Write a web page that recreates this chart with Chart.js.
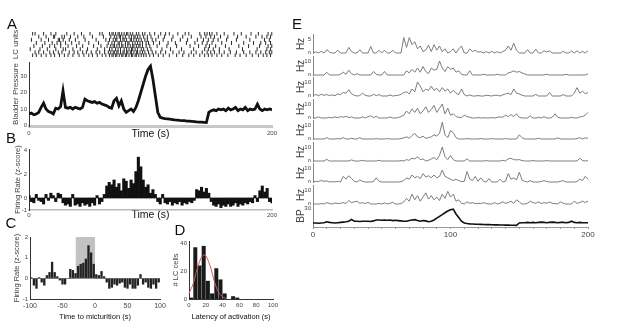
<!DOCTYPE html>
<html>
<head>
<meta charset="utf-8">
<script src="https://cdn.jsdelivr.net/npm/chart.js@4.4.1/dist/chart.umd.min.js"></script>
<style>
  body { margin: 0; background: #fff; }
  #fig { position: relative; width: 617px; height: 330px; overflow: hidden; background: #fff;
         font-family: "Liberation Sans", Arial, sans-serif; }
  #fig canvas { position: absolute; }
  .lbl { position: absolute; color: #111; white-space: nowrap; line-height: 1; transform: translate(-50%, -50%); }
</style>
</head>
<body>
<div id="fig"></div>
<script>
// ---- data ----

// time grid of the traces, 2 s steps, 0..200 s
const t2 = Array.from({ length: 101 }, (_, i) => i * 2);

// A: spike times (s) of 8 LC units
const rasterSpikes = [
  [3,5,12,18,22,31,37,43,50,58,60,66,68,69,71,73,74,76,78,80,81,83,85,88,90,93,95,99,103,108,112,115,122,128,131,140,144,146,148,150,154,160,168,174,182,188,196,199],
  [8,14,20,21,27,29,34,40,45,52,61,67,70,72,74,75,77,79,82,84,86,87,89,91,94,97,100,106,111,118,126,133,141,145,149,152,157,163,171,178,186,191,195,198],
  [2,10,16,24,25,28,33,38,46,55,63,66,69,71,72,75,77,78,80,83,84,86,88,90,92,95,97,101,104,110,117,124,130,138,143,147,151,155,162,170,181,193,197],
  [6,13,19,23,26,30,35,41,49,57,65,68,70,73,74,76,79,81,82,85,87,89,91,93,96,98,102,107,114,120,129,136,142,146,150,158,166,176,184,190,194,198],
  [4,11,17,21,26,32,39,44,53,59,64,67,69,70,72,74,76,77,79,81,83,85,86,88,90,91,93,96,99,105,113,121,132,139,145,148,153,161,172,180,189,196,199],
  [1,9,15,22,28,30,36,42,48,56,62,66,68,71,73,75,78,80,82,84,85,87,89,92,94,97,100,109,116,125,135,144,147,151,156,164,175,187,195,198],
  [5,8,12,17,20,24,27,33,37,40,44,47,51,55,58,62,65,67,69,70,72,73,75,77,78,80,81,83,84,86,88,89,91,93,95,98,101,104,108,112,118,123,127,133,137,142,146,149,152,156,160,165,170,176,181,186,190,194,197,199],
  [3,6,10,14,18,21,25,29,32,36,41,45,49,52,56,60,63,66,68,69,71,72,74,76,77,79,80,82,84,85,87,88,90,92,94,96,99,102,106,110,115,121,126,131,135,140,144,147,150,154,158,163,169,173,178,183,188,192,195,198]
];

// A: bladder pressure
const bladderPressure = [
  7,7.5,6.5,7,8,11,13.5,10,8.5,8,
  7,10.5,10,11.5,21,11,10.5,11,10,11,
  10.5,10,11,16,15,14.5,14,14.5,13.5,14,
  13,12.5,12,11,10.5,15,16.5,12,15,10,
  8,9,10,8.5,11,15,20,25,30,34,
  36,28,18,8,5,4.5,4.2,4,3.8,3.6,
  3.4,3.3,3.1,3,2.9,2.7,2.6,2.5,2.4,2.2,
  2.1,2,1.9,1.8,8,9,9.5,9,10,9.5,
  10,9,10.5,9.5,10,11,9,10,9.5,11,
  9,10,9.5,10,13,10,9,10,9.5,10,
  9.5
];
const bpTicks = [0, 10, 20, 30];
const timeTicks = [0, 200];

// B: population firing rate (z-score)
const zScore = [
  0.2,-0.3,-0.4,0.3,-0.2,-0.3,-0.5,0.3,-0.2,0.4,
  0.2,-0.3,0.4,0.3,-0.4,-0.6,-0.5,-0.7,0.3,-0.6,
  -0.5,-0.7,-0.4,-0.6,-0.5,-0.7,-0.4,-0.6,0.2,-0.5,
  -0.3,0.3,1.0,1.3,1.1,1.5,0.9,1.2,0.6,1.6,
  1.4,0.8,1.5,1.2,2.2,3.4,2.6,1.5,0.9,1.1,
  0.4,0.7,0.3,-0.3,-0.5,0.3,-0.4,-0.5,-0.3,-0.6,
  -0.4,-0.5,-0.3,-0.6,-0.4,-0.5,-0.3,-0.4,-0.2,0.7,
  0.6,0.9,0.5,0.8,0.4,-0.3,-0.6,-0.7,-0.5,-0.8,
  -0.6,-0.7,-0.5,-0.7,-0.6,-0.4,-0.7,-0.5,-0.6,-0.4,
  -0.5,-0.3,-0.4,0.2,-0.3,0.6,1.0,0.5,0.8,-0.3,
  -0.4
];
const zTicks = [-1, 0, 2, 4];

// C: firing rate around micturition
const cBins = [-98,-94,-90,-86,-82,-78,-74,-70,-66,-62,-58,-54,-50,-46,-42,-38,-34,-30,-26,-22,-18,-14,-10,-6,-2,
               2,6,10,14,18,22,26,30,34,38,42,46,50,54,58,62,66,70,74,78,82,86,90,94,98];
const cRate = [0.05,-0.35,-0.5,0.05,-0.2,-0.35,0.15,0.3,0.8,0.3,0.1,-0.1,-0.3,-0.3,0.02,0.45,0.4,0.25,0.6,0.7,0.75,0.95,1.6,1.25,0.7,
               0.2,0.15,0.35,0.1,-0.2,-0.5,-0.45,-0.3,-0.35,-0.25,-0.2,-0.45,-0.5,-0.3,-0.5,-0.5,-0.35,0.2,-0.3,-0.2,-0.45,-0.5,-0.3,-0.5,-0.2];
const cShade = [-30, 0];
const cShadeTop = 2;
const cXTicks = [-100, -50, 0, 50, 100];
const cYTicks = [-1, 0, 1, 2];

// D: latency histogram + gaussian fit
const dBins = [2.5,7.5,12.5,17.5,22.5,27.5,32.5,37.5,42.5,47.5,52.5,57.5,62.5,67.5,72.5,77.5,82.5,87.5,92.5,97.5];
const dCounts = [1,37,24,38,13,4,22,14,4,0,2,1,0,0,0,0,0,0,0,0];
const dFitX = [0,5,10,15,18,20,25,30,35,40,45];
const dFitY = [4,11,22,30,31.5,31,24,13,5,1.5,0.3];
const dXTicks = [0, 20, 40, 60, 80, 100];
const dYTicks = [0, 20, 40];

// E: single unit rates (Hz) and bladder pressure
const eUnit1 = [0,0.4,0,0.6,0,1.2,0.3,0,0,1, 0,0,0,2,0.5,0,0,1.2,0,0, 0,2.3,0,0,1,0,1,0,0,1,
  0,0,0,5.5,2,5.5,3,4,1.5,2.5, 0.5,1,2.8,0.5,3,1,2.5,0.5,1.5,0, 0.5,1.5,0,1.5,2.5,0,0,1.5,0.5,1,
  0.3,0.5,0,0.5,0,0.6,0,0.5,0,0.5, 1,2.5,1,3.5,1,0,0,0,1.2,0, 0,1.4,0,0,0.8,0.4,0.8,0,0,0,
  0,0.6,0,0,0.7,0,0.8,0,0.6,0, 0.8];
const eUnit2 = [0,0,0,0,0,2,0,0,0,0, 0.5,2,0.5,3.5,1,0,1,0,0,0, 0,0,2.5,0.5,0,0,2.5,0,0,0,
  0,0,0,0,3,1.5,4,2,5,2, 6,2.5,1,5,3.5,4,10,5,2.5,6, 4,5,2,3,0.5,0,0,3,0,0,
  0,0,0.5,0,0,0,0,0.6,0,0, 0,1.5,2,3,2,2.5,1.5,0.8,0,0, 0,0,0,0,0,0.5,0,0,0,0,
  0,0,0.5,0,0,0,0,0,0,0, 1];
const eUnit3 = [0.5,1,0.3,1.2,0.5,1,0.3,0.8,0.2,1.5, 1,2.5,2,4.5,1.5,0.5,0,0.3,2,0.5, 0,0,1.2,0.3,1,0,0,0,0.8,0,
  0.3,0.5,1.2,2.5,3,1.5,5,3,10,7, 3,5,4,7,4,5.5,3,6,3.5,5, 2,4,2,1,5,1,0,0.8,0,0,
  0.3,0,0,0.5,0.3,0,0.5,0.5,0,0.8, 1.5,2,1,5,2,1.5,0.5,0,0,0, 0,1.2,0,0,0,0,2.5,0,0,0,
  0,1,0,0,0,2,6,2,3.5,1.5, 2.5];
const eUnit4 = [0,0,0.8,0,0,0,0.5,0,0.8,0.3, 1,0.5,1.2,0.3,0.8,0,0,0,0.8,0, 1,1.5,0.3,1.2,0,0,0,0,0.8,0,
  0,0.3,1,2,5,3,6.5,4,7,3, 5,8,4,6,9,4,7,10,3,7, 2,3,1,0.5,0.3,2,1,0.5,0,0,
  0.3,0,0.2,0,0,0.3,0,0.5,0.8,0.5, 2,1,2.5,1,3,0.5,0,0,0,1.5, 0,0,0.5,0,1,0,0,0.5,3,0.5,
  0,0,0,0,0.5,0,0,0.8,1,2, 4];
const eUnit5 = [0,0,0,0,0,1,0,0,0,0.3, 0,1,0,0,0.5,0,0,1,0,0, 0,0,0,0.3,0,0,0,0.3,0,0,
  0,0,0.3,0.8,1.5,0.5,2.5,4,1.5,1, 2,0.5,1,1.5,3,2,4,12,3,1, 6,4.5,1,0,0,0,0.3,0,0,0,
  0,0.3,0,0,0,0.3,0,0,0,0, 0.3,0,0,0,0,3,1,0,0,0, 0,0,0.5,0,0,0,0,0,0,0.8,
  0,0,0,0,0,0,0.3,1,0,0.8, 0.5];
const eUnit6 = [0,0,0,0,0,1.2,0,0,0,0, 0,0,0,0,0.8,0,0,0,0.5,0, 0,0,0,0,0.5,0,0,0,0,0,
  0,0,0.3,0,1,0.5,2,1.5,3,1, 1.5,0,0.5,1.5,2.5,0.8,4,10,3,1, 4,1,0,0,0,0,1.5,0,0,0,
  0,0,0,0.3,0,0,0,0,0,0.5, 0,1.5,2,1,0.8,1,0.3,0,0,0, 0.3,0,0,0,0,0.3,0,0,0,0,
  0,0,0,0,0,0,0,2,0.3,0, 0.3];
const eUnit7 = [0,0.5,0.3,1,0.5,0.8,0,0.3,0,0.5, 0,4,2,4.5,2.5,0.5,0,1.5,0.5,0, 0,0,0.3,3,0.5,0,0,0,0,0,
  0,0,0.3,1,3,2,5,3,4,2.5, 6,3.5,4.5,3,5,3,4,8.5,4,3, 2,1,2,1,0.3,0.5,7.5,2,1,4,
  0.5,3,0.5,0,2.5,0,0,0,2,0, 0.5,6,2,3,1.5,7,1.5,0.5,0,1, 0,0,0,0.3,1,0.3,0,0,0,0,
  0.5,1,0,0,0,0,0.3,2,1,4, 2];
const eUnit8 = [0,0,0,0.3,0,1,0.3,0,0.8,0.3, 0.5,1,0.3,2.5,1,1.5,2,0.5,1,0.3, 1.2,0,0,0,0.5,0,0.8,0,0.5,1.2,
  0,0,0.3,1.5,4,2,7,3,6,2, 5,8,3.5,6,3,5,2.5,7,4,9, 5,7,2,3,0.5,0,1.5,0.5,1,0.3,
  0.5,0.3,1,0.3,0,0,1,0,0.5,1.5, 0.5,1,2,0.5,3,1.5,0,0,0.5,2, 1,0.5,1.5,0.3,1,0.5,1.5,0.5,0.3,0,
  1.5,0.5,0,0,0,2,0.5,1,2,1, 2];
const eBP = [5,5,4.5,5,5.5,7,6,5.5,5,5.5, 6,6.5,7,8,11,8,8,7.5,8,8, 8,7.5,8.5,10,10,9.5,10,9.5,10,9,
  9.5,9,8.5,8,8,9,10,10.5,9,8, 9,8.5,7,8,10,13,16,19,22,25, 27,28,20,14,8,5,4,3.5,3.2,3,
  2.8,2.6,2.5,2.3,2.2,2,1.9,1.8,1.7,1.6, 1.5,1.4,1.3,1.2,1.1,5,5.5,5.5,6,5.5, 6,5.5,6,6.5,6,5.5,6,6.5,6,5.5,
  6,6,5.5,6,8,6,5.5,6,5.5,5.5, 5.5];
const eUnits = [eUnit1, eUnit2, eUnit3, eUnit4, eUnit5, eUnit6, eUnit7, eUnit8];
const eUnitTop = [5, 10, 10, 10, 10, 10, 10, 10];
const eBPTicks = [30];
const eXTicks = [0,10,20,30,40,50,60,70,80,90,100,110,120,130,140,150,160,170,180,190,200];
const eXLabels = [0, 100, 200];

// ---- drawing ----
Chart.defaults.font.family = '"Liberation Sans", Arial, sans-serif';
Chart.defaults.color = '#444';
const fig = document.getElementById('fig');

function xy(xs, ys) { return xs.map((x, i) => ({ x: x, y: ys[i] })); }

// canvas whose chart area lands on x0..x1, y0..y1 of the page
function place(x0, y0, x1, y1, left, bottom, top, right) {
  const c = document.createElement('canvas');
  const w = x1 - x0 + left + right, h = y1 - y0 + top + bottom;
  c.width = w; c.height = h;
  c.style.left = (x0 - left) + 'px';
  c.style.top = (y0 - top) + 'px';
  c.style.width = w + 'px';
  c.style.height = h + 'px';
  fig.appendChild(c);
  return c;
}

function options(top, right, scales) {
  return {
    responsive: false, animation: false, devicePixelRatio: 1, events: [],
    layout: { padding: { top: top, right: right, left: 0, bottom: 0 } },
    plugins: { legend: { display: false }, tooltip: { enabled: false } },
    scales: scales
  };
}

function yScale(o) {
  return {
    type: 'linear', min: o.min, max: o.max, reverse: !!o.reverse,
    afterBuildTicks: s => { if (o.ticks && o.ticks.length) s.ticks = o.ticks.map(v => ({ value: v })); },
    afterFit: s => { s.width = o.width; s.paddingTop = 0; s.paddingBottom = 0; },
    grid: o.grid || { display: false, drawTicks: false },
    border: { display: o.border !== false, color: o.border || '#333', width: 1 },
    ticks: { display: !!(o.ticks && o.ticks.length), padding: 2, font: { size: o.tickSize || 6 }, color: '#444' },
    title: o.title ? { display: true, text: o.title, color: '#444', font: { size: o.titleSize || 8 },
                       padding: { top: o.titlePad || 0, bottom: 0 } } : { display: false }
  };
}

function xScale(o) {
  return {
    type: 'linear', min: o.min, max: o.max, offset: false,
    afterBuildTicks: s => { s.ticks = o.ticks.map(v => ({ value: v })); },
    afterFit: s => { s.height = o.height; s.paddingLeft = 0; s.paddingRight = 0; },
    grid: o.grid || { display: false, drawTicks: false },
    border: { color: o.border || '#333', width: o.borderWidth || 1 },
    ticks: { padding: o.tickPad || 2, font: { size: o.tickSize || 6 }, color: '#444', maxRotation: 0, autoSkip: false,
             callback: o.callback || (v => v) },
    title: o.title ? { display: true, text: o.title, color: '#111', font: { size: o.titleSize || 10.5 },
                       padding: { top: 0, bottom: 0 } } : { display: false }
  };
}

// A: raster
new Chart(place(29, 29, 273, 62, 29, 0, 2, 10), {
  type: 'scatter',
  data: { datasets: [{
    data: rasterSpikes.flatMap((sp, u) => sp.map(t => ({ x: t, y: u + 1 }))),
    pointStyle: 'line', rotation: 90, radius: 2, borderWidth: 1, borderColor: '#2a2a2a'
  }] },
  options: options(2, 10, {
    x: { type: 'linear', min: 0, max: 200, display: false },
    y: yScale({ min: 0.5, max: 8.5, reverse: true, width: 29, border: false, title: 'LC units', titleSize: 8, titlePad: 11 })
  })
});

// A: bladder pressure
new Chart(place(29, 62, 272, 126, 29, 14, 2, 12), {
  type: 'line',
  data: { datasets: [{ data: xy(t2, bladderPressure), borderColor: '#111', borderWidth: 2.8, pointRadius: 0, tension: 0 }] },
  options: options(2, 12, {
    x: xScale({ min: 0, max: 200, ticks: timeTicks, height: 14, title: 'Time (s)', tickPad: 3.5,
                border: '#c8c8c8', borderWidth: 3 }),
    y: yScale({ min: -0.3, max: 38.5, ticks: bpTicks, width: 29, title: 'Bladder Pressure', titleSize: 8, titlePad: 11 })
  })
});

// B: z-scored firing rate
new Chart(place(29, 149, 272, 210, 29, 11, 4, 12), {
  type: 'bar',
  data: { datasets: [{ data: xy(t2, zScore), backgroundColor: '#111', borderWidth: 0, barPercentage: 1, categoryPercentage: 1 }] },
  options: options(4, 12, {
    x: xScale({ min: 0, max: 200, ticks: timeTicks, height: 11, title: 'Time (s)', tickPad: 1.5,
                border: '#bbb', borderWidth: 1.5 }),
    y: yScale({ min: -1, max: 4.08, ticks: zTicks, width: 29, title: 'Firing Rate (z-score)', titleSize: 7.5, titlePad: 13 })
  })
});

// C: around micturition
new Chart(place(30, 237, 160, 299, 30, 22, 4, 10), {
  type: 'bar',
  data: { datasets: [
    { type: 'line', data: [{ x: cShade[0], y: cShadeTop }, { x: cShade[1], y: cShadeTop }], fill: 'origin',
      backgroundColor: '#c2c2c2', borderWidth: 0, pointRadius: 0, order: 2 },
    { data: xy(cBins, cRate), backgroundColor: '#222', borderWidth: 0,
      barPercentage: 0.9, categoryPercentage: 1, order: 1 }
  ] },
  options: options(4, 10, {
    x: xScale({ min: -100, max: 100, ticks: cXTicks, height: 22, title: 'Time to micturition (s)', titleSize: 7.5,
                tickSize: 7, tickPad: 2.5 }),
    y: yScale({ min: -1, max: 2, ticks: cYTicks, width: 30, title: 'Firing Rate (z-score)', titleSize: 7.5, titlePad: 12,
                grid: { display: true, drawTicks: false, lineWidth: 0.8,
                        color: ctx => (ctx.tick && ctx.tick.value === 0) ? '#555' : 'rgba(0,0,0,0)' } })
  })
});

// D: latency histogram
new Chart(place(189, 241, 273, 299, 20, 22, 4, 10), {
  type: 'bar',
  data: { datasets: [
    { type: 'line', data: xy(dFitX, dFitY), borderColor: '#d05a5a', borderWidth: 1, pointRadius: 0, tension: 0.4, order: 1 },
    { data: xy(dBins, dCounts), backgroundColor: '#1a1a1a', borderWidth: 0, barPercentage: 0.95, categoryPercentage: 1, order: 2 }
  ] },
  options: options(4, 10, {
    x: xScale({ min: 0, max: 100, ticks: dXTicks, height: 22, title: 'Latency of activation (s)', titleSize: 7.5,
                tickSize: 6, tickPad: 2.5 }),
    y: yScale({ min: 0, max: 41.5, ticks: dYTicks, width: 20, title: '# LC cells', titleSize: 7.5, titlePad: 2 })
  })
});

// E: unit rows
const eBase = [53, 75, 96, 118, 139, 161, 182, 204];
eUnits.forEach((vals, i) => {
  const b = eBase[i];
  const ppu = 14 / eUnitTop[i];
  new Chart(place(313, b - 19, 588, b + 1, 23, 0, 4, 14), {
    type: 'line',
    data: { datasets: [{ data: xy(t2, vals), borderColor: '#6e6e6e', borderWidth: 0.9, pointRadius: 0, tension: 0, clip: false }] },
    options: options(4, 14, {
      x: { type: 'linear', min: 0, max: 200, display: false },
      y: yScale({ min: -1 / ppu, max: 19 / ppu, ticks: [0, eUnitTop[i]], width: 23, border: '#888',
                  title: 'Hz', titleSize: 10, titlePad: 5.5 })
    })
  });
});

// E: bladder pressure row + time axis
new Chart(place(313, 205, 588, 227, 23, 12, 4, 14), {
  type: 'line',
  data: { datasets: [{ data: xy(t2, eBP), borderColor: '#111', borderWidth: 1.6, pointRadius: 0, tension: 0, clip: false }] },
  options: options(4, 14, {
    x: xScale({ min: 0, max: 200, ticks: eXTicks, height: 12, tickSize: 8, tickPad: 1, border: '#999',
                grid: { display: true, drawOnChartArea: false, drawTicks: true, tickLength: 2, color: '#999' },
                callback: v => eXLabels.includes(v) ? v : '' }),
    y: yScale({ min: -1.7, max: 35, ticks: eBPTicks, width: 23, border: '#888', title: 'BP', titleSize: 10, titlePad: 5.5 })
  })
});

// panel letters
[['A', 12, 22.5], ['B', 11, 137], ['C', 11, 222], ['D', 180, 229], ['E', 297, 22.5]].forEach(([t, x, y]) => {
  const d = document.createElement('div');
  d.className = 'lbl';
  d.textContent = t;
  d.style.left = x + 'px';
  d.style.top = y + 'px';
  d.style.fontSize = '15px';
  fig.appendChild(d);
});
</script>
</body>
</html>
